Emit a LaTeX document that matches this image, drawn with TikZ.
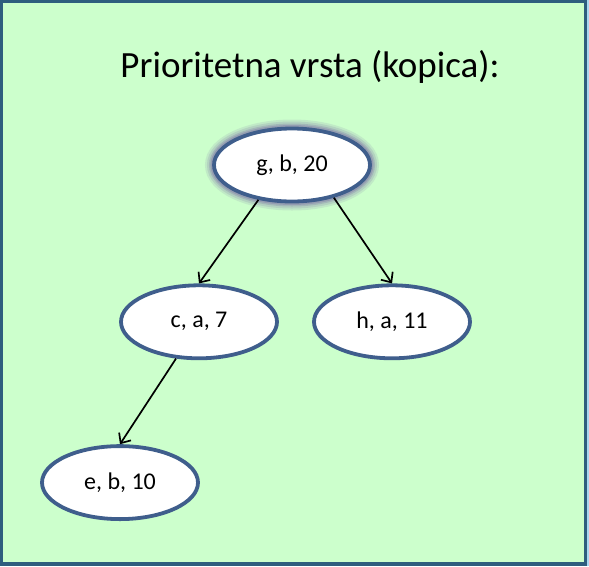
\documentclass[tikz,border=0pt]{standalone}
\usepackage{fontspec}
\setmainfont{Carlito}
\usepackage{tikz}
\usetikzlibrary{shapes.geometric, positioning}
\usetikzlibrary{arrows.meta}
\tikzset{>={Straight Barb[width=5mm,length=2.8mm]}}
\definecolor{slidegreen}{HTML}{CCFFCC}
\definecolor{slideframe}{HTML}{2E5E7E}
\definecolor{heapblue}{HTML}{3F5E8C}
\definecolor{glowgray}{HTML}{7F78A8}
\definecolor{sidestrip}{HTML}{A8D8F0}

\begin{document}
\begin{tikzpicture}[x=1pt, y=-1pt, heapnode/.style={ellipse, draw=heapblue, fill=white, line width=3.8pt, minimum width=156pt, minimum height=73pt, inner sep=0pt, font=\fontsize{24}{28}\selectfont}, glownode/.style={heapnode, preaction={draw=glowgray, line width=18pt, opacity=0.15}, preaction={draw=glowgray, line width=14pt, opacity=0.2}, preaction={draw=glowgray, line width=10pt, opacity=0.3}, preaction={draw=glowgray, line width=7pt, opacity=0.4}}, edge/.style={->, line width=1.7pt}]

    %Background
    \useasboundingbox (0,0) rectangle (589,566);
    \fill[sidestrip] (0,0) rectangle (589,566);
    \draw[slideframe, fill=slidegreen, line width=3.5pt] (1.2,1.5) rectangle (585.5,564);

    %Nodes
    \node[font=\fontsize{37}{42}\selectfont](title) at (310,67){Prioritetna vrsta (kopica):};
    \node[glownode](root) at (292,165){g, b, 20};
    \node[heapnode](left)[below=80pt of root, xshift=-93pt]{c, a, 7};
    \node[heapnode](right)[below=80pt of root, xshift=100pt]{h, a, 11};
    \node[heapnode](leftleft)[below=84pt of left, xshift=-79pt]{e, b, 10};

    %Lines
    \draw[edge] (root.226) -- (left.north);
    \draw[edge] (root.322) -- (right.north);
    \draw[edge] (left.238) -- (leftleft.north);

\end{tikzpicture}
\end{document}
